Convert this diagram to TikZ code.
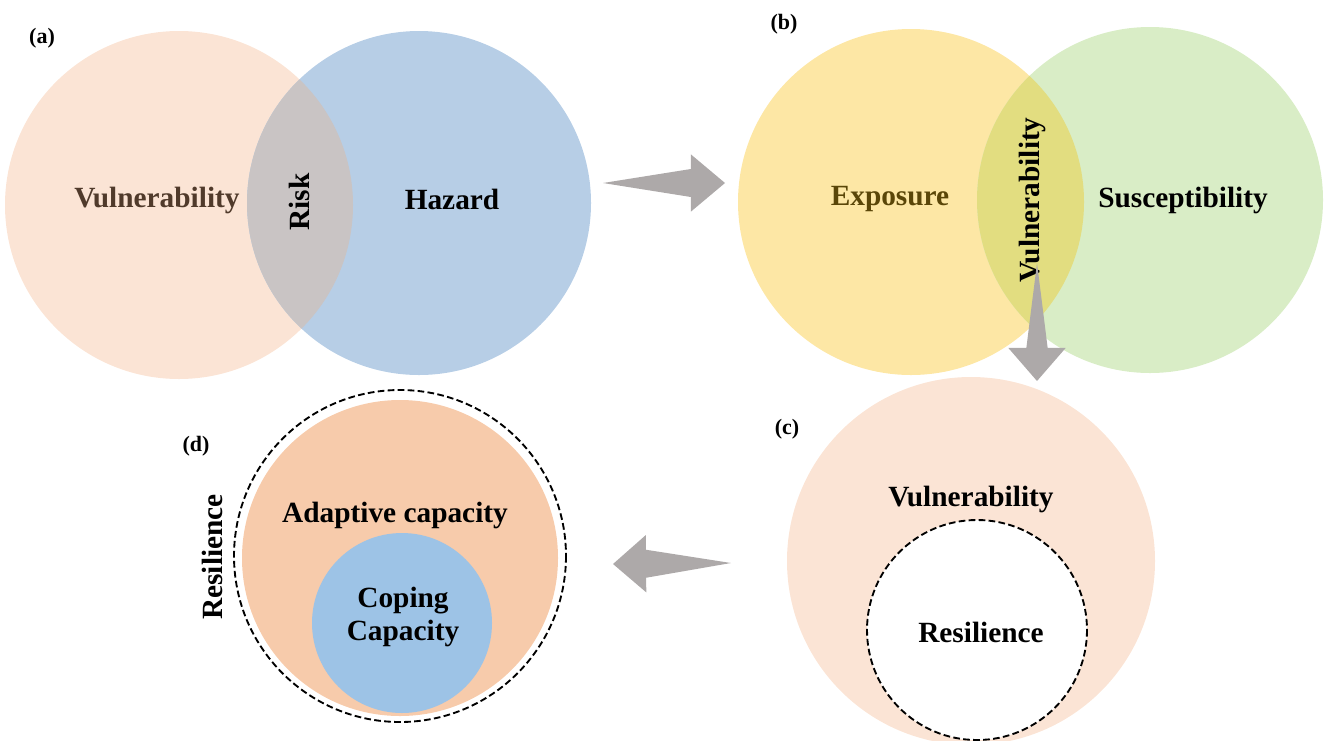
\documentclass[tikz,border=0pt]{standalone}
\usepackage{fontspec}
\setmainfont{Liberation Serif}
\usetikzlibrary{calc}

\definecolor{peach}{HTML}{FBE4D5}
\definecolor{hazblue}{HTML}{B7CEE6}
\definecolor{riskgray}{HTML}{C9C4C4}
\definecolor{expyellow}{HTML}{FDE7A5}
\definecolor{susgreen}{HTML}{D9EDC6}
\definecolor{vulolive}{HTML}{E2DD80}
\definecolor{adaporange}{HTML}{F7CBAB}
\definecolor{copblue}{HTML}{9DC3E6}
\definecolor{arrowgray}{HTML}{ADA9A9}
\definecolor{vulbrown}{HTML}{503A2B}
\definecolor{expbrown}{HTML}{5A4608}

\tikzset{
    lbl/.style={font=\fontsize{22}{26}\selectfont\bfseries, anchor=base},
    panel/.style={font=\fontsize{16.5}{20}\selectfont\bfseries},
    ring/.style={draw=black, line width=1.4pt, dash pattern=on 5pt off 2.5pt},
}

% block arrow: tail point, tip, tail half width
\newcommand{\blockarr}[3]{%
    \path (#1) -- coordinate[pos=0.72] (hb) (#2);
    \fill[arrowgray] (#1) -- ($(hb)!#3!90:(#2)$) -- ($(hb)!21.5pt!90:(#2)$) -- (#2)
        -- ($(hb)!21.5pt!-90:(#2)$) -- ($(hb)!#3!-90:(#2)$) -- cycle;
}

\begin{document}
\begin{tikzpicture}[x=0.75pt, y=-0.75pt]
    \useasboundingbox (0, 0) rectangle (1330, 740);

    % (a)
    \fill[peach] (179, 205) circle (174);
    \fill[hazblue] (419, 203) circle (172);
    \begin{scope}
        \clip (179, 205) circle (174);
        \fill[riskgray] (419, 203) circle (172);
    \end{scope}
    \node[panel] (pa) at (42, 38) {(a)};
    \node[lbl, text=vulbrown] (vula) at (157, 207) {Vulnerability};
    \node[lbl, rotate=90] (risk) at (309, 202) {Risk};
    \node[lbl] (haz) at (452, 209) {Hazard};

    % (b)
    \fill[expyellow] (911, 202) circle (173);
    \fill[susgreen] (1150, 200) circle (173);
    \begin{scope}
        \clip (911, 202) circle (173);
        \fill[vulolive] (1150, 200) circle (173);
    \end{scope}
    \node[panel] (pb) at (784, 24) {(b)};
    \node[lbl, text=expbrown] (expo) at (890, 205) {Exposure};
    \node[lbl] (susc) at (1183, 207) {Susceptibility};
    \node[lbl, rotate=90] (vulb) at (1039, 200) {Vulnerability};

    % (c)
    \fill[peach] (971, 561) circle (184);
    \draw[ring, fill=white] (977, 630) circle (110);
    \node[panel] (pc) at (787, 429) {(c)};
    \node[lbl] (vulc) at (971, 506) {Vulnerability};
    \node[lbl] (resc) at (981, 642) {Resilience};

    % (d)
    \draw[ring] (400, 556) circle (166);
    \fill[adaporange] (400, 558) circle (158);
    \fill[copblue] (402, 623) circle (90);
    \node[panel] (pd) at (196, 446) {(d)};
    \node[lbl] (adap) at (395, 522) {Adaptive capacity};
    \node[lbl] (cop1) at (403, 607) {Coping};
    \node[lbl] (cop2) at (403, 640) {Capacity};
    \node[lbl, rotate=90] (resd) at (222, 557) {Resilience};

    % arrows between panels
    \coordinate (ab-s) at (603, 183);
    \coordinate (ab-e) at (725, 183);
    \coordinate (bc-s) at (1037, 263);
    \coordinate (bc-e) at (1037, 381);
    \coordinate (cd-s) at (731, 563);
    \coordinate (cd-e) at (613, 564);
    \blockarr{ab-s}{ab-e}{10.5pt}
    \blockarr{bc-s}{bc-e}{8pt}
    \blockarr{cd-s}{cd-e}{10.5pt}
\end{tikzpicture}
\end{document}
